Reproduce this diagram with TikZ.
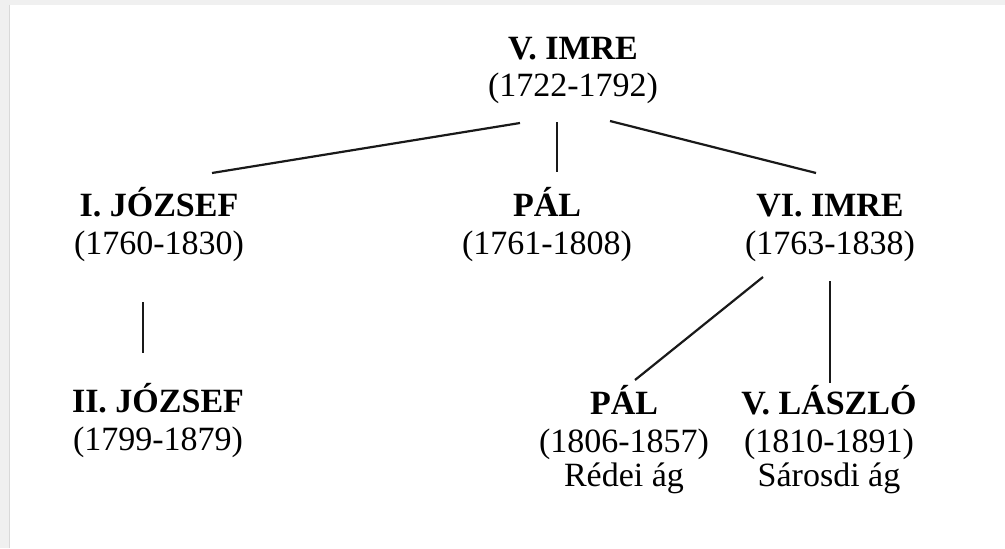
\documentclass[tikz,border=0pt]{standalone}
\usepackage{fontspec}
\setmainfont{Liberation Serif}

\begin{document}
\begin{tikzpicture}[x=1pt,y=-1pt]
      % paper
      \fill[gray!12] (0,0) rectangle (1005,548);
      \fill[white] (9,5) rectangle (1005,548);
      \draw[gray!30,line width=0.8pt] (9,5) -- (9,548);
      \useasboundingbox (0,0) rectangle (1005,548);
      \begin{scope}[every node/.style={align=center,inner sep=0pt,anchor=base,
          font=\fontsize{34}{38}\selectfont}]
        \node (1) at (573,97) {\textbf{V. IMRE}\\(1722-1792)};
        \node (2) at (159,254) {\textbf{I. JÓZSEF}\\(1760-1830)};
        \node (3) at (547,254) {\textbf{PÁL}\\(1761-1808)};
        \node (4) at (830,254) {\textbf{VI. IMRE}\\(1763-1838)};
        \node (5) at (158,450) {\textbf{II. JÓZSEF}\\(1799-1879)};
        \node (6) at (624,486) {\textbf{PÁL}\\(1806-1857)\\[-4pt]Rédei ág};
        \node (7) at (829,486) {\textbf{V. LÁSZLÓ}\\(1810-1891)\\[-4pt]Sárosdi ág};
      \end{scope}
      \begin{scope}[every edge/.style={draw,line width=2.2pt,black!90}]
        \path ([xshift=-53pt,yshift=-26pt]1.base) edge ([xshift=53pt,yshift=81pt]2.base);
        \path ([xshift=-16pt,yshift=-25pt]1.base) edge ([xshift=10pt,yshift=82pt]3.base);
        \path ([xshift=37pt,yshift=-24pt]1.base) edge ([xshift=-14pt,yshift=81pt]4.base);
        \path ([xshift=-16pt,yshift=-48pt]2.base) edge ([xshift=-15pt,yshift=97pt]5.base);
        \path ([xshift=-67pt,yshift=-23pt]4.base) edge ([xshift=11pt,yshift=106pt]6.base);
        \path ([xshift=0pt,yshift=-27pt]4.base) edge ([xshift=1pt,yshift=103pt]7.base);
      \end{scope}
    \end{tikzpicture}
\end{document}
